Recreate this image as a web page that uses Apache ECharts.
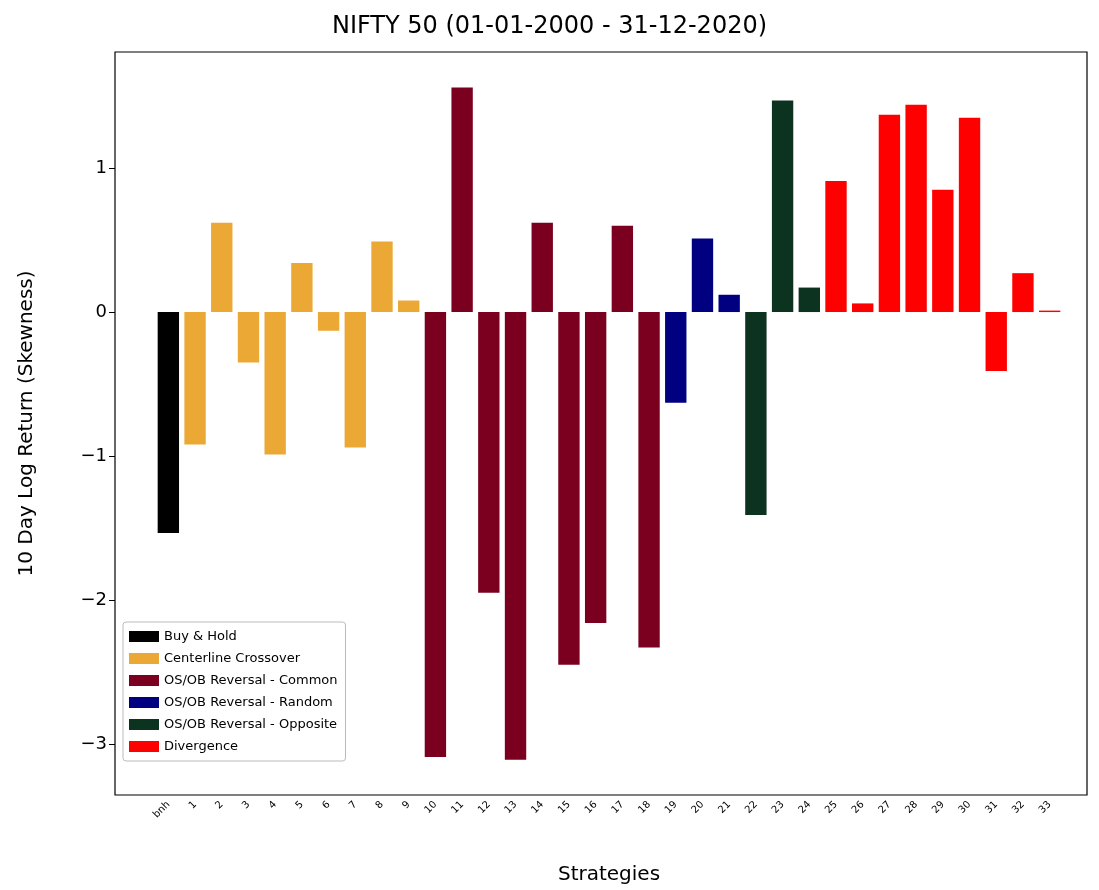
<!DOCTYPE html>
<html lang="en">
<head>
<meta charset="UTF-8">
<title>NIFTY 50</title>
<script src="https://cdn.jsdelivr.net/npm/echarts@6/dist/echarts.min.js"></script>
</head>
<body style="margin:0">
<div id="chart" style="width:1099px; height:890px;"></div>
<script>
var categories = ["bnh","1","2","3","4","5","6","7","8","9","10","11","12","13","14","15","16","17","18","19","20","21","22","23","24","25","26","27","28","29","30","31","32","33"];
var values = [-1.535,-0.92,0.62,-0.35,-0.99,0.34,-0.13,-0.94,0.49,0.08,-3.09,1.56,-1.95,-3.11,0.62,-2.45,-2.16,0.60,-2.33,-0.63,0.51,0.12,-1.41,1.47,0.17,0.91,0.06,1.37,1.44,0.85,1.35,-0.41,0.27,0.01];
// group index per category
var groups = [0,1,1,1,1,1,1,1,1,1,2,2,2,2,2,2,2,2,2,3,3,3,4,4,4,5,5,5,5,5,5,5,5,5];
var groupNames = ["Buy & Hold","Centerline Crossover","OS/OB Reversal - Common","OS/OB Reversal - Random","OS/OB Reversal - Opposite","Divergence"];
var groupColors = ["#000000","#eba835","#7b0020","#000080","#0b3320","#ff0000"];
var yTicks = [-3, -2, -1, 0, 1];

var series = groupNames.map(function(name, g) {
  return {
    name: name,
    type: "bar",
    stack: "all",
    barWidth: "80%",
    itemStyle: {color: groupColors[g]},
    data: values.map(function(v, i) { return groups[i] === g ? v : "-"; })
  };
});

var myChart = echarts.init(document.getElementById("chart"));
myChart.setOption({
  animation: false,
  title: {text: "NIFTY 50 (01-01-2000 - 31-12-2020)", left: "center", top: 10,
    textStyle: {fontFamily: "DejaVu Sans", fontSize: 24, fontWeight: "normal", color: "#000"}},
  legend: {
    orient: "vertical", left: 123, top: 622, itemGap: 9, icon: "rect",
    itemWidth: 30, itemHeight: 11, padding: [8, 8, 8, 6],
    borderColor: "#bbb", borderWidth: 1, borderRadius: 3, backgroundColor: "#fff",
    textStyle: {fontFamily: "DejaVu Sans", fontSize: 13, color: "#000"},
    data: groupNames
  },
  grid: {left: 155, right: 36, top: 52, bottom: 95},
  graphic: [{type: "rect", shape: {x: 115, y: 52, width: 972, height: 743},
    style: {fill: "none", stroke: "#000", lineWidth: 1.2}, z: 10}],
  xAxis: {
    type: "category", data: categories, name: "Strategies", nameLocation: "middle", nameGap: 70,
    nameTextStyle: {fontFamily: "DejaVu Sans", fontSize: 20, color: "#000"},
    axisLine: {show: false}, axisTick: {alignWithLabel: true, lineStyle: {color: "#000"}},
    axisLabel: {rotate: 45, fontSize: 10, color: "#000", interval: 0, fontFamily: "DejaVu Sans"}
  },
  yAxis: {
    type: "value", min: -3.354, max: 1.806, offset: 40,
    name: "10 Day Log Return (Skewness)", nameLocation: "middle", nameGap: 78,
    nameTextStyle: {fontFamily: "DejaVu Sans", fontSize: 20, color: "#000"},
    splitLine: {show: false}, axisLine: {show: false},
    axisTick: {show: true, customValues: yTicks, length: 6, lineStyle: {color: "#000"}},
    axisLabel: {fontSize: 18, color: "#000", fontFamily: "DejaVu Sans", customValues: yTicks,
      formatter: function(v) { return v < 0 ? "\u2212" + (-v) : String(v); }}
  },
  series: series
});
</script>
</body>
</html>
